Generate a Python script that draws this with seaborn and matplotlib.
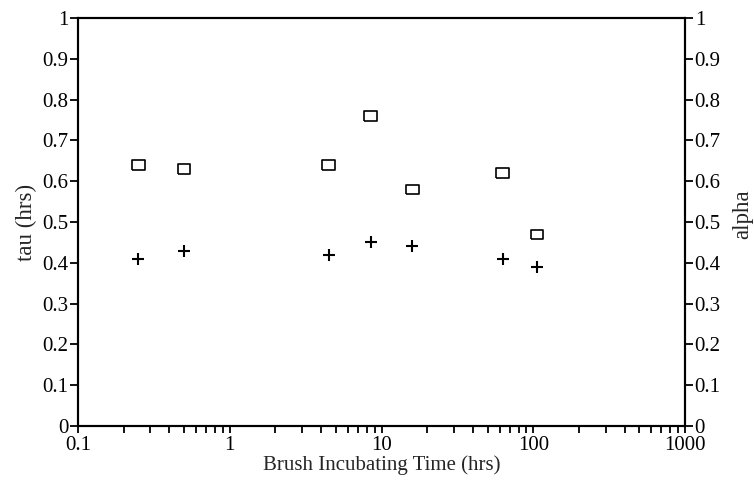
import matplotlib
matplotlib.use("Agg")
import matplotlib.pyplot as plt
from matplotlib.ticker import FixedLocator, FuncFormatter, LogLocator, NullFormatter
import numpy as np
import pandas as pd
import seaborn as sns

# Measured values
incubation_hrs = [0.25, 0.5, 4.5, 8.5, 16, 63, 106]
tau_hrs = [0.64, 0.63, 0.64, 0.76, 0.58, 0.62, 0.47]
alpha = [0.41, 0.43, 0.42, 0.45, 0.44, 0.41, 0.39]

x_ticks = [0.1, 1, 10, 100, 1000]
y_ticks = [0, 0.1, 0.2, 0.3, 0.4, 0.5, 0.6, 0.7, 0.8, 0.9, 1]

sns.set_style("ticks")
plt.rcParams["font.family"] = ["Liberation Serif", "DejaVu Serif"]
plt.rcParams["font.size"] = 15

df = pd.DataFrame({"time": incubation_hrs, "tau": tau_hrs, "alpha": alpha})

fig = plt.figure(figsize=(7.54, 4.80), dpi=100)
ax = fig.add_axes([78 / 754, 1 - 426 / 480, (685 - 78) / 754, (426 - 18) / 480])
ax2 = ax.twinx()

# open rectangle marker, wider than tall
rect = [(-1, -0.74), (1, -0.74), (1, 0.74), (-1, 0.74), (-1, -0.74)]

sns.scatterplot(data=df, x="time", y="tau", ax=ax, marker=rect, s=85,
                facecolor="none", edgecolor="black", linewidth=1.2,
                legend=False, zorder=3)
sns.scatterplot(data=df, x="time", y="alpha", ax=ax2, marker="+", s=75,
                color="black", linewidth=1.5, legend=False, zorder=3)

for a in (ax, ax2):
    a.set_xscale("log")
    a.set_xlim(0.1, 1000)
    a.set_ylim(0, 1)
    a.yaxis.set_major_locator(FixedLocator(y_ticks))
    a.yaxis.set_major_formatter(FuncFormatter(lambda v, p: f"{v:g}"))
    for s in a.spines.values():
        s.set_linewidth(1.5)
        s.set_color("black")

ax.xaxis.set_major_locator(FixedLocator(x_ticks))
ax.xaxis.set_major_formatter(FuncFormatter(lambda v, p: f"{v:g}"))
ax.xaxis.set_minor_locator(LogLocator(base=10, subs=np.arange(2, 10)))
ax.xaxis.set_minor_formatter(NullFormatter())

ax.tick_params(axis="x", which="both", direction="out", length=5, width=1.3,
               pad=2.5, labelsize=15, colors="black")
ax.tick_params(axis="y", which="major", direction="out", length=6, width=1.3,
               pad=1, labelsize=15, colors="black")
ax2.tick_params(axis="y", which="major", direction="out", length=6, width=1.3,
                pad=1, labelsize=15, colors="black")

ax.set_xlabel("Brush Incubating Time (hrs)", fontsize=15, labelpad=0)
ax.set_ylabel("tau (hrs)", fontsize=16.5, labelpad=4)
ax2.set_ylabel("alpha", fontsize=16.5, rotation=90, va="center", ha="center")
ax2.yaxis.set_label_coords(1.095, 0.52)

fig.savefig("out.png", dpi=100, facecolor="white")
